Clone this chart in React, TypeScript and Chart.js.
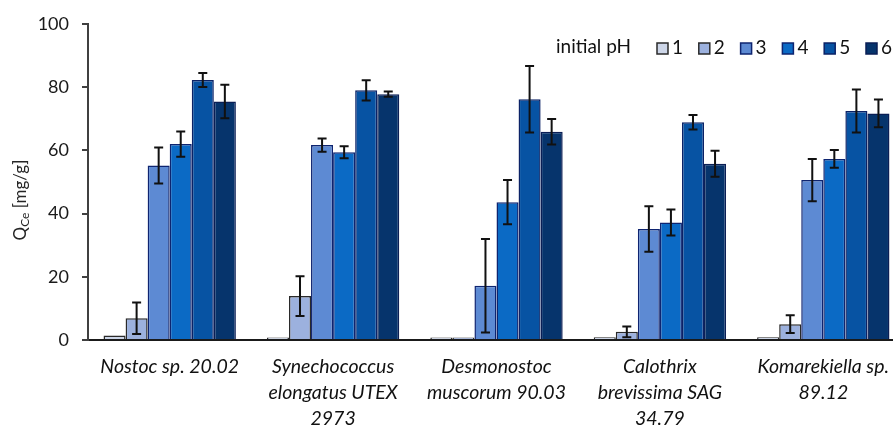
import React, { useEffect, useRef } from 'react';
import { Chart, registerables } from 'chart.js';

Chart.register(...registerables);

const categories: string[][] = [
  ['Nostoc sp. 20.02'],
  ['Synechococcus', 'elongatus UTEX', '2973'],
  ['Desmonostoc', 'muscorum 90.03'],
  ['Calothrix', 'brevissima SAG', '34.79'],
  ['Komarekiella sp.', '89.12'],
];
const phLabels = ['1', '2', '3', '4', '5', '6'];
const ph1 = [1.4, 0.8, 0.8, 0.9, 0.9];
const ph2 = [6.9, 13.9, 0.8, 2.6, 5.0];
const ph3 = [55.2, 61.7, 17.2, 35.1, 50.6];
const ph4 = [62.0, 59.4, 43.6, 37.2, 57.3];
const ph5 = [82.3, 79.0, 76.2, 68.9, 72.5];
const ph6 = [75.5, 77.8, 65.9, 55.8, 71.7];
const err1 = [0, 0, 0, 0, 0];
const err2 = [5.0, 6.3, 0, 1.7, 2.8];
const err3 = [5.7, 2.1, 14.8, 7.2, 6.7];
const err4 = [4.0, 1.9, 7.0, 4.1, 2.8];
const err5 = [2.2, 3.2, 10.5, 2.3, 6.8];
const err6 = [5.3, 0.8, 4.0, 4.1, 4.4];
const yTicks = [0, 20, 40, 60, 80, 100];
const legendTitle = 'initial pH';
const yTitleMain = 'Q';
const yTitleSub = 'Ce';
const yTitleRest = ' [mg/g]';

const seriesValues = [ph1, ph2, ph3, ph4, ph5, ph6];
const seriesErrors = [err1, err2, err3, err4, err5, err6];
const fills = ['#CDD6E8', '#9CB1DE', '#5D8AD3', '#0B6AC5', '#0753A3', '#06346C'];
const borders = ['#2A2A2A', '#2A2A2A', '#0E2470', '#0E2470', '#0B2266', '#0A1E55'];
const FONT = 'Lato, "Open Sans", sans-serif';

const errorBarPlugin = {
  id: 'errorBars',
  afterDatasetsDraw(chart: any) {
    const ctx = chart.ctx;
    const ys = chart.scales.y;
    chart.data.datasets.forEach((ds: any, di: number) => {
      const meta = chart.getDatasetMeta(di);
      const errs = seriesErrors[di];
      meta.data.forEach((bar: any, i: number) => {
        const e = errs[i];
        if (!e) return;
        const v = ds.data[i];
        const top = ys.getPixelForValue(v + e);
        const bot = ys.getPixelForValue(Math.max(v - e, 0));
        const x = bar.x;
        const cap = 4.5;
        ctx.save();
        ctx.strokeStyle = '#111111';
        ctx.lineWidth = 2;
        ctx.beginPath();
        ctx.moveTo(x, top);
        ctx.lineTo(x, bot);
        ctx.moveTo(x - cap, top);
        ctx.lineTo(x + cap, top);
        ctx.moveTo(x - cap, bot);
        ctx.lineTo(x + cap, bot);
        ctx.stroke();
        ctx.restore();
      });
    });
  },
};

const decorPlugin = {
  id: 'decor',
  afterDraw(chart: any) {
    const ctx = chart.ctx;
    const area = chart.chartArea;
    ctx.save();
    // legend
    ctx.font = `19px ${FONT}`;
    ctx.fillStyle = '#111111';
    ctx.textBaseline = 'middle';
    ctx.textAlign = 'left';
    const ly = area.top + 24;
    ctx.fillText(legendTitle, area.left + 468, ly - 1);
    chart.data.datasets.forEach((ds: any, i: number) => {
      const bx = area.left + 569 + i * 41.8;
      ctx.fillStyle = fills[i];
      ctx.fillRect(bx, ly - 5, 11, 11);
      ctx.strokeStyle = borders[i];
      ctx.lineWidth = 1.5;
      ctx.strokeRect(bx, ly - 5, 11, 11);
      ctx.fillStyle = '#111111';
      ctx.fillText(ds.label, bx + 15, ly);
    });
    // y title
    const cx = 20;
    const cy = 200;
    ctx.translate(cx, cy);
    ctx.rotate(-Math.PI / 2);
    ctx.fillStyle = '#262626';
    const mainFont = `17px ${FONT}`;
    const subFont = `12px ${FONT}`;
    ctx.font = mainFont;
    const w1 = ctx.measureText(yTitleMain).width;
    const w3 = ctx.measureText(yTitleRest).width;
    ctx.font = subFont;
    const w2 = ctx.measureText(yTitleSub).width;
    const total = w1 + w2 + w3;
    let x = -total / 2;
    ctx.textBaseline = 'alphabetic';
    ctx.font = mainFont;
    ctx.fillText(yTitleMain, x, 6);
    x += w1;
    ctx.font = subFont;
    ctx.fillText(yTitleSub, x, 9);
    x += w2;
    ctx.font = mainFont;
    ctx.fillText(yTitleRest, x, 6);
    ctx.restore();
  },
};

export default function App() {
  const ref = useRef<HTMLCanvasElement | null>(null);
  useEffect(() => {
    if (!ref.current) return;
    const chart = new Chart(ref.current, {
      type: 'bar',
      data: {
        labels: categories,
        datasets: seriesValues.map((vals, i) => ({
          label: phLabels[i],
          data: vals,
          backgroundColor: fills[i],
          borderColor: borders[i],
          borderWidth: 1.5,
          categoryPercentage: 0.81,
          barPercentage: 1.0,
        })),
      },
      options: {
        animation: false,
        responsive: false,
        maintainAspectRatio: false,
        layout: { padding: { left: 0, top: 24, right: 15, bottom: 0 } },
        plugins: {
          legend: { display: false },
          tooltip: { enabled: false },
          title: { display: false },
        },
        scales: {
          x: {
            grid: { display: false, drawTicks: false },
            border: { display: true, color: '#1a1a1a', width: 2 },
            ticks: {
              color: '#111111',
              font: { family: FONT, size: 19.5, style: 'italic', lineHeight: 1.33 },
              padding: 14,
              maxRotation: 0,
              autoSkip: false,
            },
            afterFit(scale: any) {
              scale.height = 90;
            },
          },
          y: {
            min: 0,
            max: 100,
            afterBuildTicks(scale: any) {
              scale.ticks = yTicks.map((v) => ({ value: v }));
            },
            grid: {
              display: true,
              drawOnChartArea: false,
              drawTicks: true,
              tickLength: 6,
              color: '#404040',
              lineWidth: 2,
            },
            border: { display: true, color: '#404040', width: 2 },
            ticks: {
              color: '#1a1a1a',
              font: { family: FONT, size: 18 },
              padding: 13,
            },
            afterFit(scale: any) {
              scale.width = 88;
            },
          },
        },
      },
      plugins: [errorBarPlugin, decorPlugin],
    } as any);
    return () => chart.destroy();
  }, []);
  return (
    <div style={{ position: 'absolute', left: 0, top: 0, width: 893, height: 430, overflow: 'hidden', background: '#ffffff' }}>
      <canvas ref={ref} width={920} height={430} style={{ display: 'block' }} />
    </div>
  );
}
